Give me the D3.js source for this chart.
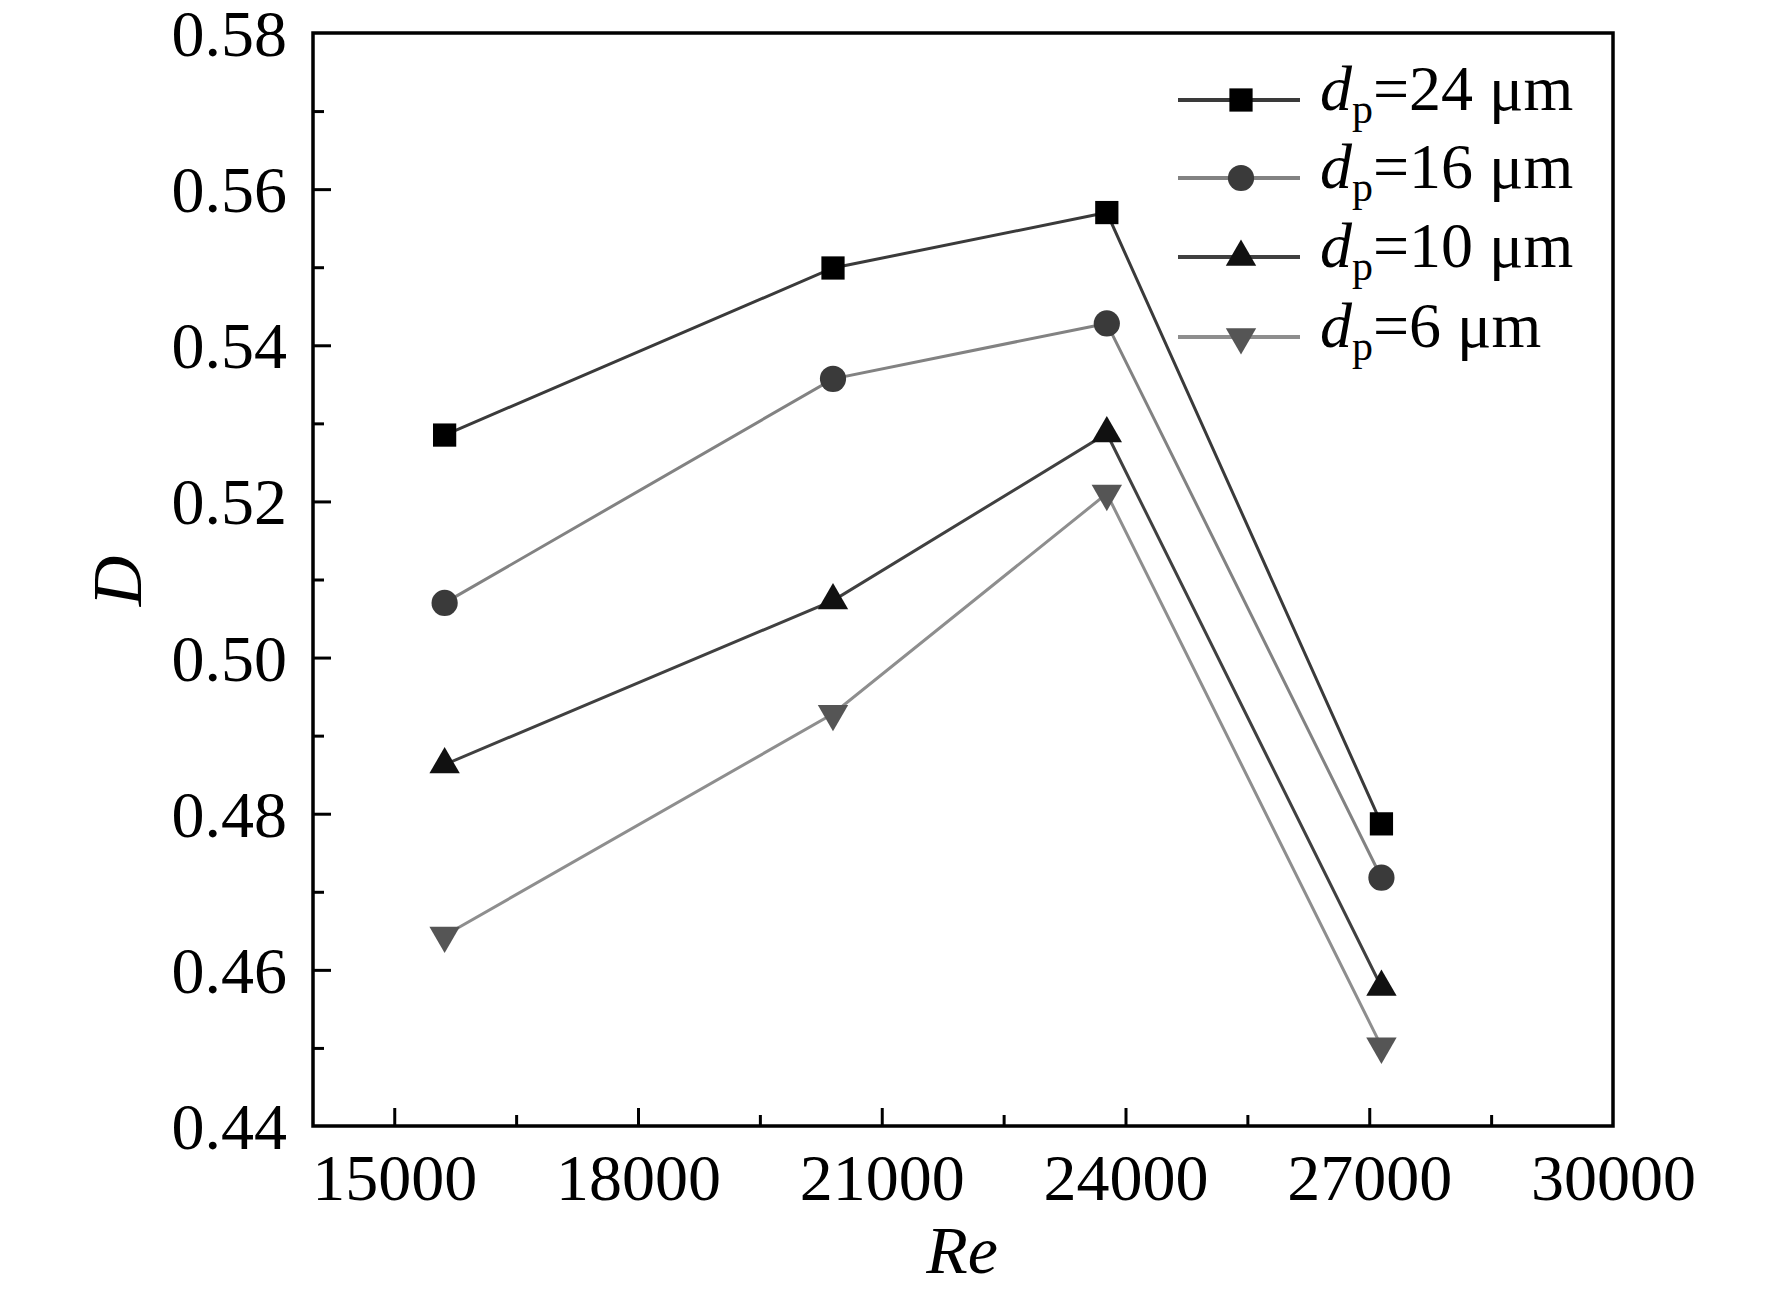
<!DOCTYPE html>
<html>
<head>
<meta charset="utf-8">
<script src="https://cdn.jsdelivr.net/npm/d3@7"></script>
<style>
  html, body { margin: 0; padding: 0; background: #fff; }
  svg { display: block; }
  text { font-family: "Liberation Serif", "Times New Roman", serif; fill: #000; }
</style>
</head>
<body>
<svg id="chart" width="1772" height="1293"></svg>
<script>
// ---- data ----
const reynolds = [15620, 20400, 23770, 27150];
const seriesNames = ["24", "16", "10", "6"];
const d24 = [0.5285, 0.5499, 0.5570, 0.4787];
const d16 = [0.5070, 0.5357, 0.5428, 0.4718];
const d10 = [0.4863, 0.5073, 0.5287, 0.4578];
const d6  = [0.4644, 0.4928, 0.5210, 0.4502];
const xTicks = [15000, 18000, 21000, 24000, 27000, 30000];
const xMinorTicks = [16500, 19500, 22500, 25500, 28500];
const yTicks = [0.44, 0.46, 0.48, 0.50, 0.52, 0.54, 0.56, 0.58];
const yMinorTicks = [0.45, 0.47, 0.49, 0.51, 0.53, 0.55, 0.57];

const series = [
  { name: seriesNames[0], values: d24, symbol: d3.symbolSquare,   size: 540, rot: 0,   line: "#3a3a3a", fill: "#000000" },
  { name: seriesNames[1], values: d16, symbol: d3.symbolCircle,   size: 540, rot: 0,   line: "#828282", fill: "#3a3a3a" },
  { name: seriesNames[2], values: d10, symbol: d3.symbolTriangle, size: 400, rot: 0,   line: "#404040", fill: "#111111" },
  { name: seriesNames[3], values: d6,  symbol: d3.symbolTriangle, size: 400, rot: 180, line: "#8e8e8e", fill: "#555555" }
];

// ---- layout ----
const L = 313, R = 1613, T = 33, B = 1126;
const svg = d3.select("#chart");
const x = d3.scaleLinear().domain([14000, 30000]).range([L, R]);
const y = d3.scaleLinear().domain([0.44, 0.58]).range([B, T]);

const tickFont = 66;

// frame
svg.append("rect").attr("x", L).attr("y", T).attr("width", R - L).attr("height", B - T)
  .attr("fill", "none").attr("stroke", "#000").attr("stroke-width", 3.5);

// x axis
const gx = svg.append("g").attr("transform", `translate(0,${B})`);
gx.call(d3.axisBottom(x).tickValues(xTicks).tickSize(-18).tickPadding(0).tickFormat(d3.format("d")));
gx.select(".domain").remove();
gx.selectAll(".tick line").attr("stroke", "#000").attr("stroke-width", 3);
gx.selectAll(".tick text").attr("font-size", tickFont).attr("y", 74).attr("dy", 0)
  .style("font-family", '"Liberation Serif","Times New Roman",serif');
gx.selectAll(".tick").filter(d => d >= 30000).select("line").remove();
const gxm = svg.append("g").attr("transform", `translate(0,${B})`);
gxm.call(d3.axisBottom(x).tickValues(xMinorTicks).tickSize(-11).tickFormat(""));
gxm.select(".domain").remove();
gxm.selectAll(".tick line").attr("stroke", "#000").attr("stroke-width", 3);

// y axis
const gy = svg.append("g").attr("transform", `translate(${L},0)`);
gy.call(d3.axisLeft(y).tickValues(yTicks).tickSize(-18).tickPadding(0).tickFormat(d3.format(".2f")));
gy.select(".domain").remove();
gy.selectAll(".tick line").attr("stroke", "#000").attr("stroke-width", 3);
gy.selectAll(".tick text").attr("font-size", tickFont).attr("x", -26).attr("dy", "0.34em")
  .style("font-family", '"Liberation Serif","Times New Roman",serif');
gy.selectAll(".tick").filter(d => d >= 0.58 || d <= 0.44).select("line").remove();
const gym = svg.append("g").attr("transform", `translate(${L},0)`);
gym.call(d3.axisLeft(y).tickValues(yMinorTicks).tickSize(-11).tickFormat(""));
gym.select(".domain").remove();
gym.selectAll(".tick line").attr("stroke", "#000").attr("stroke-width", 3);

// axis titles
svg.append("text").attr("x", 962).attr("y", 1273).attr("text-anchor", "middle")
  .attr("font-size", 68).attr("font-style", "italic").text("Re");
svg.append("text").attr("transform", "translate(141,581) rotate(-90)").attr("text-anchor", "middle")
  .attr("font-size", 70).attr("font-style", "italic").text("D");

// series
const lineGen = d3.line().x((d, i) => x(reynolds[i])).y(d => y(d));
series.forEach(s => {
  svg.append("path").datum(s.values).attr("d", lineGen)
    .attr("fill", "none").attr("stroke", s.line).attr("stroke-width", 3);
});
series.forEach(s => {
  svg.append("g").selectAll("path").data(s.values).join("path")
    .attr("d", d3.symbol().type(s.symbol).size(s.size))
    .attr("transform", (d, i) => `translate(${x(reynolds[i])},${y(d)}) rotate(${s.rot})`)
    .attr("fill", s.fill);
});

// legend
const legY = [100, 178, 257, 337];
series.forEach((s, i) => {
  const g = svg.append("g").attr("transform", `translate(0,${legY[i]})`);
  g.append("line").attr("x1", 1178).attr("x2", 1300).attr("y1", 0).attr("y2", 0)
    .attr("stroke", s.line).attr("stroke-width", 4);
  g.append("path").attr("d", d3.symbol().type(s.symbol).size(s.size))
    .attr("transform", `translate(1241,0) rotate(${s.rot})`).attr("fill", s.fill);
  const t = g.append("text").attr("x", 1320).attr("y", 10).attr("font-size", 64);
  t.append("tspan").attr("font-style", "italic").text("d");
  t.append("tspan").attr("font-size", 42).attr("dy", 13).text("p");
  t.append("tspan").attr("dy", -13).text("=" + s.name + " μm");
});
</script>
</body>
</html>
